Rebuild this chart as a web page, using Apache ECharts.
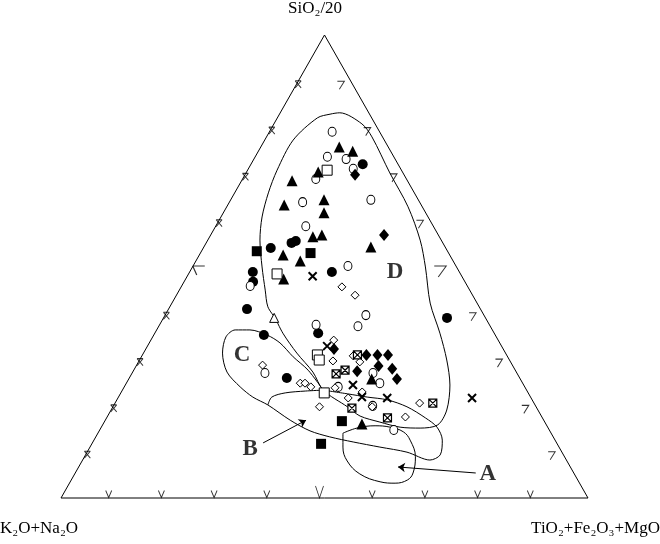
<!DOCTYPE html>
<html><head><meta charset="utf-8">
<script src="https://cdn.jsdelivr.net/npm/echarts@6/dist/echarts.min.js"></script>
<style>html,body{margin:0;padding:0;background:#fff}#c{width:660px;height:544px}</style>
</head><body><div id="c"></div>
<script>
// Ternary values: [SiO2/20 %, TiO2+Fe2O3+MgO %]; K2O+Na2O = 100 - both
const filledCircle = [[72.1,21.2],[55.1,16.2],[55.5,16.8],[54.0,12.8],[48.8,27.0],[48.8,12.0],[46.7,13.1],[40.8,14.9],[35.2,20.9],[35.6,31.0],[25.9,29.9],[38.9,53.8]];
const openCircle = [[79.1,11.9],[73.7,13.7],[73.2,17.5],[71.1,19.9],[68.9,13.9],[63.9,13.9],[64.4,26.6],[58.7,17.1],[50.1,29.4],[45.8,13.0],[39.5,38.1],[37.1,37.8],[37.4,29.7],[27.0,25.2],[27.0,45.7],[24.8,48.1],[24.0,40.6],[19.9,49.2],[14.7,55.8]];
const filledTriangle = [[75.8,14.9],[74.9,17.9],[70.4,13.6],[68.5,9.6],[63.3,10.7],[64.4,17.7],[61.6,19.1],[56.4,19.6],[56.8,21.1],[52.5,15.9],[51.2,19.8],[54.2,31.7],[47.3,18.6],[16.0,49.1],[25.7,46.1]];
const openSquare = [[70.8,15.1],[48.4,16.8],[30.9,33.2],[29.8,34.1],[22.7,38.6]];
const filledSquare = [[53.3,10.5],[52.9,20.9],[16.6,45.0],[11.7,43.5]];
const filledDiamond = [[69.8,20.9],[56.8,32.9],[32.2,35.7],[30.9,42.5],[30.9,44.6],[30.9,46.6],[28.5,46.0],[27.9,48.9],[25.7,50.9],[27.4,42.5]];
const openDiamond = [[45.6,30.5],[43.8,33.9],[34.1,34.7],[29.6,36.8],[30.7,40.1],[29.4,42.0],[28.7,23.9],[24.8,33.0],[24.8,33.9],[24.0,35.4],[23.8,40.1],[19.7,39.2],[21.6,43.7],[22.9,45.7],[19.7,49.2],[17.5,56.6],[20.5,57.8]];
const crossMark = [[47.9,23.8],[32.8,34.1],[21.8,46.2],[21.6,51.1],[21.6,67.2],[24.4,43.2]];
const crossSquare = [[30.9,40.8],[27.6,40.1],[26.8,38.8],[19.4,45.5],[20.5,60.3],[17.3,53.3]];
const openTriangle = [[38.9,21.0]];

// Field outlines (same ternary form)
const fieldD = [[38.9,21.2],[41.3,18.6],[44.9,16.3],[49.9,13.2],[55.7,9.9],[60.7,7.8],[65.9,6.4],[70.8,5.6],[77.3,5.4],[82.1,7.6],[82.9,9.6],[83.2,11.3],[80.8,16.7],[78.0,20.0],[70.2,27.3],[62.9,34.4],[55.7,40.3],[49.9,44.2],[42.1,49.0],[35.6,54.1],[29.8,58.3],[24.4,61.6],[19.0,63.7],[15.8,63.6],[15.1,60.6],[15.3,56.7],[16.4,52.3],[17.7,47.9],[19.7,44.5],[23.3,38.1],[27.2,34.2],[31.3,29.1],[35.6,24.3],[38.9,21.2]];
const fieldCB = [[23.3,38.1],[27.6,33.1],[30.5,28.8],[33.5,24.8],[35.2,21.5],[36.3,17.7],[36.3,14.9],[34.8,13.9],[31.3,15.0],[27.2,17.9],[24.0,22.0],[21.8,25.5],[20.1,29.2],[16.8,35.1],[14.5,40.0],[13.2,44.4],[12.1,49.4],[11.0,55.0],[9.9,60.7],[8.2,65.9],[9.3,67.3],[12.5,66.1],[15.3,63.7],[17.3,60.5],[19.7,55.8],[21.2,51.3],[21.8,47.2],[22.5,43.1],[23.3,38.1]];
const fieldBTop = [[20.1,29.2],[21.8,29.1],[22.7,31.2],[23.1,34.8],[23.3,38.1]];
const fieldA = [[14.0,46.5],[15.1,48.6],[15.6,51.8],[15.3,54.8],[14.3,57.8],[12.5,60.0],[8.9,62.8],[5.4,64.1],[3.9,63.8],[3.2,61.8],[3.5,58.8],[5.2,54.1],[8.0,50.3],[11.0,48.0],[14.0,46.5]];
const arrowB = [[11.9,32.4],[16.8,38.1]];
const arrowA = [[5.4,76.0],[6.7,60.6]];
const fieldNames = ['A','B','C','D'];
const fieldNamePos = [[5.2,78.4],[10.6,30.6],[30.9,18.9],[48.8,39.0]];
const tickLevels = [10,20,30,40,50,60,70,80,90];
const vertexTitles = ['SiO₂/20','K₂O+Na₂O','TiO₂+Fe₂O₃+MgO'];
const triangle = [[0,0],[0,100],[100,0],[0,0]];

const toXY = p => [p[1] + p[0] / 2, p[0]];

function pts(data, symbol, size, fill, stroke, bw) {
  return {type:'scatter', data:data.map(toXY), symbol:symbol, symbolSize:size, silent:true, z:5,
    itemStyle:{color:fill, borderColor:stroke, borderWidth:bw, opacity:1}};
}
function curve(data, smooth) {
  return {type:'line', data:data.map(toXY), symbol:'none', smooth:smooth, clip:false, silent:true, z:3,
    lineStyle:{color:'#000', width:1}};
}
function ticks(data, path, size, offset) {
  return {type:'scatter', data:data.map(toXY), symbol:path, symbolSize:size, symbolOffset:offset, silent:true, z:4,
    itemStyle:{color:'transparent', borderColor:'#000', borderWidth:1}};
}
const big = t => t === 50;
const bottomT = tickLevels.map(t => [0, t]);
const leftT = tickLevels.map(t => [t, 0]);
const rightT = tickLevels.map(t => [t, 100 - t]);
const lv = (arr, f) => arr.filter((p, i) => f(tickLevels[i]));

const X_PATH = 'path://M0,0L10,10M10,0L0,10';
const XSQ_PATH = 'path://M0,0L10,0L10,10L0,10ZM0,0L10,10M10,0L0,10';
const TITLE_FONT = '17px "Liberation Serif"';

const chart = echarts.init(document.getElementById('c'));
chart.setOption({
  animation:false,
  backgroundColor:'#fff',
  grid:{left:61, right:72, top:35, bottom:46},
  xAxis:{type:'value', min:0, max:100, show:false},
  yAxis:{type:'value', min:0, max:100, show:false},
  graphic:[
    {type:'text', left:288, top:0, style:{text:vertexTitles[0], font:TITLE_FONT, fill:'#000'}},
    {type:'text', left:0, top:520, style:{text:vertexTitles[1], font:TITLE_FONT, fill:'#000'}},
    {type:'text', right:0, top:520, style:{text:vertexTitles[2], font:TITLE_FONT, fill:'#000'}}
  ],
  series:[
    curve(triangle, false),
    curve(fieldD, 0.3),
    curve(fieldCB, 0.3),
    curve(fieldBTop, 0.3),
    curve(fieldA, 0.4),
    {type:'line', data:[], silent:true, markLine:{silent:true, symbol:['none','arrow'], symbolSize:7,
      lineStyle:{color:'#000', width:1, type:'solid'}, label:{show:false},
      data:[[{coord:toXY(arrowB[0])},{coord:toXY(arrowB[1])}],[{coord:toXY(arrowA[0])},{coord:toXY(arrowA[1])}]]}},
    ticks(lv(bottomT, t => !big(t)), 'path://M0,0L4,8L8,0', [6,7], [-5,-4]),
    ticks(lv(bottomT, big), 'path://M0,0L4,12L8,0', [8,12], [-5,-6]),
    ticks(lv(leftT, t => !big(t)), 'path://M0,0L7,0M0,0L7,8M7,0L0,8', [6,7], [0,3]),
    ticks(lv(leftT, big), 'path://M0,0L12,0M0,0L4,9', [12,9], [6,4]),
    ticks(lv(rightT, t => !big(t)), 'path://M0,0L7,0L2,8', [7,8], [-10,4]),
    ticks(lv(rightT, big), 'path://M0,0L12,0L4,11', [12,11], [-16,5]),
    pts(filledCircle, 'circle', 10, '#000', '#000', 0),
    pts(openCircle, 'circle', [8,9], '#fff', '#000', 1),
    pts(filledTriangle, 'triangle', 11, '#000', '#000', 0),
    pts(openSquare, 'rect', 10, '#fff', '#000', 1),
    pts(filledSquare, 'rect', 10, '#000', '#000', 0),
    pts(filledDiamond, 'diamond', [10,12], '#000', '#000', 0),
    pts(openDiamond, 'diamond', [8,8], '#fff', '#000', 1),
    pts(crossMark, X_PATH, 8, 'transparent', '#000', 2),
    pts(crossSquare, XSQ_PATH, 8, '#fff', '#000', 1.2),
    pts(openTriangle, 'triangle', 9, '#fff', '#000', 1),
    {type:'scatter', silent:true, z:6, symbolSize:1, itemStyle:{color:'transparent'},
      data:fieldNames.map((n, i) => ({name:n, value:toXY(fieldNamePos[i])})),
      label:{show:true, position:'inside', formatter:'{b}', color:'#000',
        fontFamily:'Liberation Serif', fontWeight:'bold', fontSize:23}}
  ]
});
</script></body></html>
